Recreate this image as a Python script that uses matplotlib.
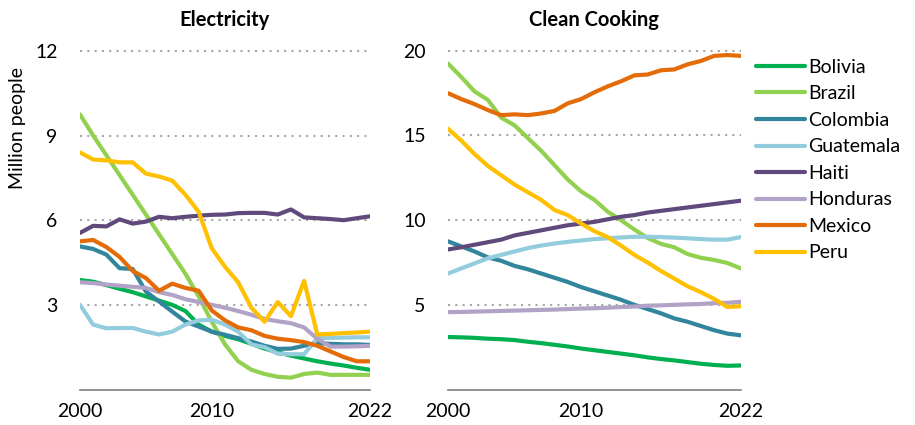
import matplotlib.pyplot as plt
from matplotlib.lines import Line2D

years = list(range(2000, 2023))

countries = ['Bolivia', 'Brazil', 'Colombia', 'Guatemala', 'Haiti', 'Honduras', 'Mexico', 'Peru']
colors = ['#00b050', '#92d050', '#31859c', '#93cddd', '#604a7b', '#b3a2c7', '#e36c09', '#ffc000']

# Million people without access to electricity
elec_bolivia = [3.88, 3.82, 3.7, 3.57, 3.45, 3.3, 3.15, 3.0, 2.78, 2.3, 2.05, 1.9, 1.78, 1.62,
                1.45, 1.32, 1.2, 1.1, 1.0, 0.92, 0.85, 0.77, 0.7]
elec_brazil = [9.75, 9.0, 8.3, 7.6, 6.9, 6.2, 5.5, 4.8, 4.1, 3.3, 2.4, 1.6, 1.0, 0.7,
               0.55, 0.45, 0.42, 0.55, 0.6, 0.52, 0.52, 0.52, 0.52]
elec_colombia = [5.07, 4.98, 4.78, 4.3, 4.27, 3.47, 3.12, 2.76, 2.41, 2.23, 2.05, 1.94, 1.82, 1.7,
                 1.55, 1.44, 1.45, 1.55, 1.64, 1.62, 1.6, 1.6, 1.58]
elec_guatemala = [3.0, 2.3, 2.17, 2.18, 2.18, 2.05, 1.95, 2.05, 2.3, 2.45, 2.47, 2.3, 2.05, 1.6,
                  1.5, 1.27, 1.25, 1.25, 1.82, 1.83, 1.84, 1.85, 1.85]
elec_haiti = [5.55, 5.8, 5.78, 6.03, 5.88, 5.95, 6.12, 6.07, 6.12, 6.16, 6.19, 6.2, 6.25, 6.26,
              6.26, 6.2, 6.38, 6.1, 6.07, 6.04, 6.0, 6.07, 6.14]
elec_honduras = [3.8, 3.77, 3.72, 3.68, 3.64, 3.6, 3.45, 3.35, 3.2, 3.1, 3.0, 2.9, 2.78, 2.65,
                 2.5, 2.42, 2.35, 2.2, 1.8, 1.52, 1.52, 1.53, 1.55]
elec_mexico = [5.25, 5.3, 5.05, 4.7, 4.2, 3.95, 3.5, 3.75, 3.6, 3.5, 2.8, 2.45, 2.2, 2.1,
               1.9, 1.8, 1.75, 1.68, 1.55, 1.35, 1.15, 1.0, 1.0]
elec_peru = [8.4, 8.15, 8.12, 8.05, 8.05, 7.65, 7.55, 7.4, 6.9, 6.3, 5.0, 4.35, 3.8, 2.9,
             2.4, 3.1, 2.6, 3.85, 1.95, 1.97, 2.0, 2.02, 2.05]

# Million people without access to clean cooking
cook_bolivia = [3.1, 3.08, 3.05, 3.0, 2.97, 2.92, 2.82, 2.74, 2.64, 2.54, 2.42, 2.32, 2.22, 2.12,
                2.02, 1.9, 1.8, 1.72, 1.62, 1.52, 1.45, 1.4, 1.42]
cook_brazil = [19.25, 18.45, 17.6, 17.1, 16.05, 15.6, 14.85, 14.1, 13.25, 12.4, 11.7, 11.2, 10.5, 10.0,
               9.45, 8.95, 8.6, 8.4, 8.0, 7.78, 7.65, 7.47, 7.15]
cook_colombia = [8.75, 8.45, 8.15, 7.8, 7.6, 7.3, 7.1, 6.85, 6.6, 6.35, 6.05, 5.8, 5.55, 5.3,
                 5.0, 4.75, 4.5, 4.2, 4.0, 3.75, 3.5, 3.3, 3.2]
cook_guatemala = [6.85, 7.15, 7.45, 7.75, 7.95, 8.15, 8.35, 8.5, 8.62, 8.72, 8.8, 8.88, 8.93, 8.98,
                  9.02, 9.02, 9.0, 8.97, 8.93, 8.88, 8.85, 8.85, 9.0]
cook_haiti = [8.27, 8.4, 8.55, 8.7, 8.85, 9.1, 9.25, 9.4, 9.55, 9.7, 9.8, 9.9, 10.05, 10.2,
              10.3, 10.45, 10.55, 10.65, 10.75, 10.85, 10.95, 11.05, 11.15]
cook_honduras = [4.57, 4.58, 4.6, 4.62, 4.64, 4.66, 4.68, 4.7, 4.72, 4.75, 4.78, 4.8, 4.83, 4.87,
                 4.9, 4.95, 4.97, 5.0, 5.03, 5.05, 5.1, 5.12, 5.18]
cook_mexico = [17.5, 17.15, 16.85, 16.5, 16.2, 16.25, 16.2, 16.3, 16.45, 16.9, 17.15, 17.55, 17.9, 18.2,
               18.55, 18.6, 18.85, 18.9, 19.2, 19.4, 19.7, 19.75, 19.7]
cook_peru = [15.4, 14.7, 13.9, 13.2, 12.65, 12.1, 11.65, 11.2, 10.6, 10.3, 9.8, 9.35, 9.0, 8.5,
             7.95, 7.5, 7.0, 6.55, 6.1, 5.75, 5.35, 4.87, 4.92]

elec = [elec_bolivia, elec_brazil, elec_colombia, elec_guatemala,
        elec_haiti, elec_honduras, elec_mexico, elec_peru]
cook = [cook_bolivia, cook_brazil, cook_colombia, cook_guatemala,
        cook_haiti, cook_honduras, cook_mexico, cook_peru]

plt.rcParams['font.family'] = ['Lato', 'DejaVu Sans']


def draw_panel(ax, series, title, ymax, yticks):
    for vals, c in zip(series, colors):
        ax.plot(years, vals, color=c, lw=3, solid_joinstyle='round', solid_capstyle='round')
    ax.set_xlim(2000, 2022)
    ax.set_ylim(0, ymax)
    ax.set_xticks([2000, 2010, 2022])
    ax.set_yticks(yticks)
    for t in yticks:
        ax.axhline(t, color='#a6a6a6', lw=1.5, ls=(0, (1, 2.5)), zorder=0)
    for s in ['top', 'right', 'left']:
        ax.spines[s].set_visible(False)
    ax.spines['bottom'].set_color('#7f7f7f')
    ax.spines['bottom'].set_linewidth(1.2)
    ax.tick_params(axis='x', length=0, labelsize=14, pad=10)
    ax.tick_params(axis='y', length=0, labelsize=14, pad=16)
    ax.set_title(title, fontsize=14.5, fontweight='bold', pad=8)


fig = plt.figure(figsize=(9.15, 4.25), dpi=100)
ax1 = fig.add_axes([0.0874, 0.0835, 0.317, 0.83])
ax2 = fig.add_axes([0.4896, 0.0835, 0.320, 0.83])

draw_panel(ax1, elec, 'Electricity', 12.5, [3, 6, 9, 12])
draw_panel(ax2, cook, 'Clean Cooking', 20.83, [5, 10, 15, 20])
ax1.set_ylabel('Million people', fontsize=14)
ax1.yaxis.set_label_coords(-0.185, 0.74)

handles = [Line2D([0], [0], color=c, lw=3, solid_capstyle='round') for c in colors]
fig.legend(handles, countries, loc='upper left', bbox_to_anchor=(0.818, 0.88),
           frameon=False, fontsize=14, handlelength=2.5, handletextpad=0.15,
           labelspacing=0.49, borderaxespad=0)

fig.savefig('out.png', dpi=100)
